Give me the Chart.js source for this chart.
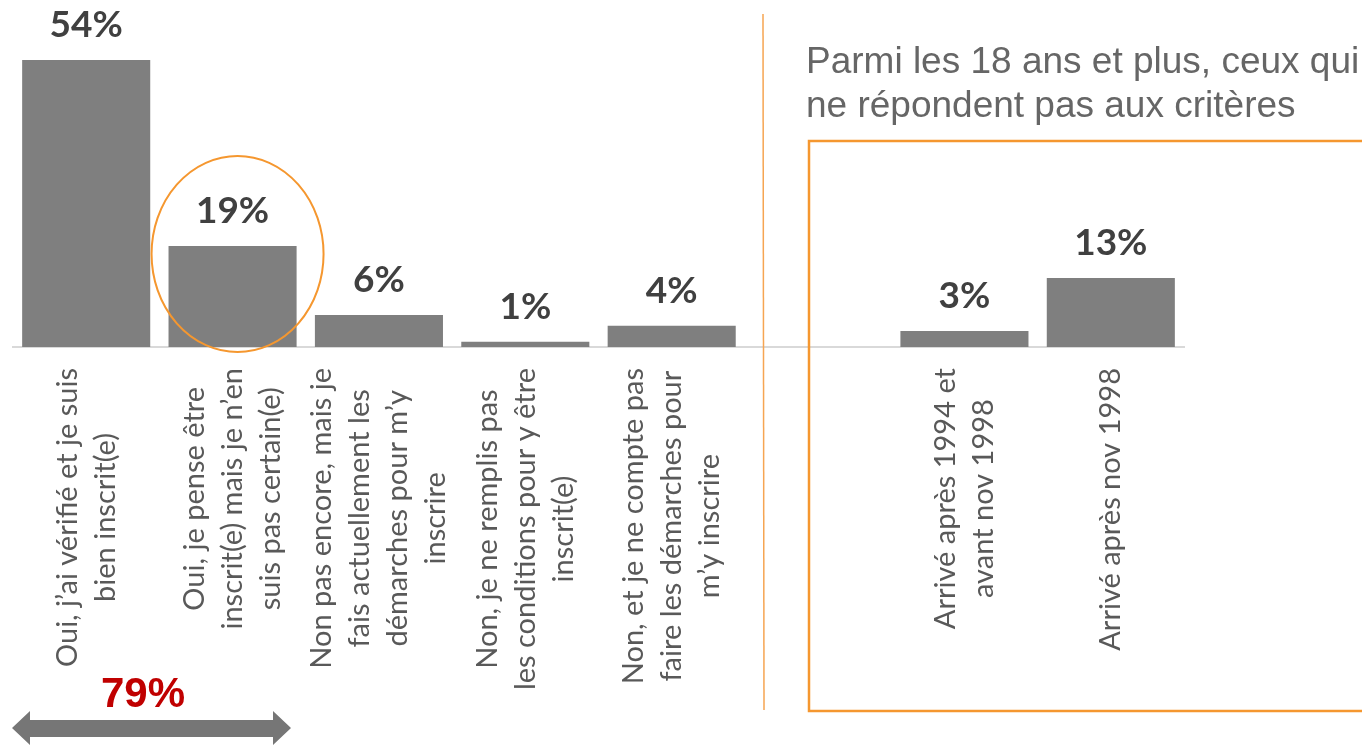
<!DOCTYPE html>
<html>
<head>
<meta charset="utf-8">
<script src="https://cdn.jsdelivr.net/npm/chart.js@4.4.0/dist/chart.umd.min.js"></script>
<style>
  body { margin: 0; background: #fff; }
  canvas { display: block; }
</style>
</head>
<body>
<canvas id="inscrits" width="1362" height="745"></canvas>
<script>
// categories, one empty slot separates the two groups
var categories = [
  ["Oui, j’ai vérifié et je suis", "bien inscrit(e)"],
  ["Oui, je pense être", "inscrit(e) mais je n’en", "suis pas certain(e)"],
  ["Non pas encore, mais je", "fais actuellement les", "démarches pour m’y", "inscrire"],
  ["Non, je ne remplis pas", "les conditions pour y être", "inscrit(e)"],
  ["Non, et je ne compte pas", "faire les démarches pour", "m’y inscrire"],
  [""],
  ["Arrivé après 1994 et", "avant nov 1998"],
  ["Arrivé après nov 1998"]
];
var values = [54, 19, 6, 1, 4, null, 3, 13];
var valueLabels = ["54%", "19%", "6%", "1%", "4%", "", "3%", "13%"];
var totalLabel = "79%";
var titleLines = ["Parmi les 18 ans et plus, ceux qui", "ne répondent pas aux critères"];

var orange = "#f5972f";

var drawLabels = {
  id: 'drawLabels',
  afterDatasetsDraw: function(chart) {
    var ctx = chart.ctx;
    var xs = chart.scales.x;
    var meta = chart.getDatasetMeta(0);

    // value labels
    ctx.save();
    ctx.fillStyle = "#404040";
    ctx.font = "bold 37px Lato";
    ctx.textAlign = "center";
    ctx.textBaseline = "alphabetic";
    meta.data.forEach(function(bar, i) {
      if (values[i] == null) return;
      ctx.fillText(valueLabels[i], bar.x, bar.y - 23);
    });
    ctx.restore();

    // rotated category labels, lines centered on the longest one
    ctx.save();
    ctx.fillStyle = "#595959";
    ctx.font = "29px Lato";
    ctx.textAlign = "center";
    ctx.textBaseline = "middle";
    var top = chart.chartArea.bottom + 21;
    var lh = 38;
    categories.forEach(function(lines, i) {
      var w = 0;
      lines.forEach(function(l) { w = Math.max(w, ctx.measureText(l).width); });
      var cx = xs.getPixelForValue(i);
      ctx.save();
      ctx.translate(cx, top + w / 2);
      ctx.rotate(-Math.PI / 2);
      lines.forEach(function(l, j) {
        ctx.fillText(l, 0, (j - (lines.length - 1) / 2) * lh);
      });
      ctx.restore();
    });
    ctx.restore();

    // ellipse round the second bar
    var b2 = meta.data[1];
    ctx.save();
    ctx.strokeStyle = orange;
    ctx.lineWidth = 2;
    ctx.beginPath();
    ctx.ellipse(b2.x + 5, 254, 86, 98, 0, 0, Math.PI * 2);
    ctx.stroke();

    // separator and box
    ctx.strokeStyle = "#f6a552";
    ctx.lineWidth = 1.5;
    ctx.beginPath();
    ctx.moveTo(763, 14);
    ctx.lineTo(764, 710);
    ctx.stroke();
    ctx.strokeStyle = orange;
    ctx.lineWidth = 2.5;
    ctx.beginPath();
    ctx.moveTo(1370, 141);
    ctx.lineTo(809, 141);
    ctx.lineTo(809, 711);
    ctx.lineTo(1370, 711);
    ctx.stroke();

    // title on the right
    ctx.fillStyle = "#666666";
    ctx.font = "37px 'Liberation Sans'";
    ctx.textAlign = "left";
    ctx.textBaseline = "alphabetic";
    ctx.fillText(titleLines[0], 806, 73);
    ctx.fillText(titleLines[1], 806, 117);

    // total with double arrow
    ctx.fillStyle = "#c00000";
    ctx.font = "bold 42px 'Liberation Sans'";
    ctx.textAlign = "center";
    ctx.fillText(totalLabel, 143, 707);

    ctx.fillStyle = "#767676";
    ctx.beginPath();
    ctx.moveTo(12, 728);
    ctx.lineTo(30, 711);
    ctx.lineTo(30, 720);
    ctx.lineTo(273, 720);
    ctx.lineTo(273, 711);
    ctx.lineTo(291, 728);
    ctx.lineTo(273, 745);
    ctx.lineTo(273, 737);
    ctx.lineTo(30, 737);
    ctx.lineTo(30, 745);
    ctx.closePath();
    ctx.fill();
    ctx.restore();
  }
};

var ctx = document.getElementById("inscrits").getContext('2d');
var chart = new Chart(ctx, {
  type: 'bar',
  data: {
    labels: categories,
    datasets: [{
      data: values,
      backgroundColor: "#7f7f7f",
      borderWidth: 0,
      barPercentage: 0.875,
      categoryPercentage: 1
    }]
  },
  options: {
    responsive: false,
    animation: false,
    layout: { padding: { left: 13, right: 178, top: 28, bottom: 398 } },
    plugins: { legend: { display: false }, tooltip: { enabled: false } },
    scales: {
      x: {
        grid: { display: false, drawTicks: false },
        border: { display: true, color: "#d9d9d9", width: 2 },
        ticks: { display: false }
      },
      y: {
        display: false,
        min: 0,
        max: 60
      }
    }
  },
  plugins: [drawLabels]
});
</script>
</body>
</html>
